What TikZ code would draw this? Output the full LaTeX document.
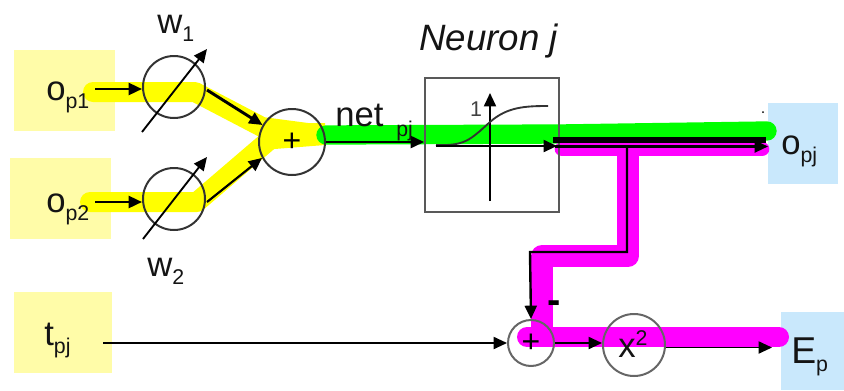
\documentclass[tikz,border=0pt]{standalone}
\usepackage{fontspec}
\setmainfont{Liberation Sans}
\usetikzlibrary{arrows.meta}
\definecolor{inyellow}{HTML}{FFFCA8}
\definecolor{outblue}{HTML}{C9E8FC}
\definecolor{hiyellow}{HTML}{FFFF00}
\definecolor{higreen}{HTML}{00FF00}
\definecolor{himag}{HTML}{FF00FF}
\definecolor{ringgray}{HTML}{333333}
\newcommand{\lowsub}[1]{\raisebox{-6pt}{\fontsize{16}{16}\selectfont #1}}
\tikzset{
  px/.style={x=0.75pt,y=-0.75pt},
  inbox/.style={fill=inyellow,draw=none,minimum width=75.75pt,minimum height=60.75pt,inner sep=0},
  outbox/.style={fill=outblue,draw=none,inner sep=0},
  ring/.style={circle,draw=ringgray,line width=1.5pt,inner sep=0},
  lbl/.style={inner sep=0,text=black!92,font=\fontsize{26}{26}\selectfont},
  conn/.style={black,line width=1.4pt,-{Triangle[length=10pt,width=9pt]}},
  hy/.style={hiyellow,line width=15pt,line cap=round,line join=round},
}
\begin{document}
\begin{tikzpicture}[px]
\useasboundingbox (0,0) rectangle (844,390);
% boxes
\node[inbox] (op1) at (64.5,90) {};
\node[inbox] (op2) at (60.5,198) {};
\node[inbox,minimum width=73.5pt] (tpj) at (63,332) {};
\node[outbox,minimum width=52.5pt,minimum height=60.75pt] (opj) at (803,143.5) {};
\node[outbox,minimum width=47.25pt,minimum height=58.5pt] (ep) at (812.5,351) {};
% highlights
\draw[hy] (93,92) -- (195,92) -- (262,127) -- (315,134);
\draw[hy] (90,202) -- (197,202) -- (267,142);
\fill[hiyellow] (262,123) -- (325,123) -- (325,145) -- (262,150) -- cycle;
\draw[higreen,line width=14.5pt,line cap=round,line join=round] (326,135) -- (560,134) -- (767,131);
\draw[himag,line width=11pt,line cap=round] (562,149) -- (762,149);
\draw[himag,line width=16.5pt,line cap=round,line join=round] (628,149) -- (628,256) -- (542,256);
\draw[himag,line width=16pt,line join=round] (542,256) -- (542,337);
\draw[himag,line width=15pt,line cap=round] (527,337) -- (779,337);
% rings
\node[ring,minimum size=46.5pt] (w1) at (174,87) {};
\node[ring,minimum size=46.5pt] (w2) at (174,199) {};
\node[ring,minimum size=49.5pt] (sum) at (292,142) {\fontsize{24}{24}\selectfont +};
\node[ring,draw=black!60,minimum size=34.5pt] (sub) at (531,343) {\fontsize{24}{24}\selectfont +};
\node[ring,draw=black!60,minimum size=46.5pt] (sq) at (634,345) {};
\node[lbl,anchor=base west] at (618,357) {x\raisebox{9pt}{\fontsize{16}{16}\selectfont 2}};
% weights
\coordinate (w1a) at (142,132); \coordinate (w1b) at (207,49);
\coordinate (w2a) at (143,239); \coordinate (w2b) at (207,157);
\draw[conn] (w1a) -- (w1b);
\draw[conn] (w2a) -- (w2b);
% input connectors
\coordinate (s1) at (95,89); \coordinate (s2) at (95,202);
\draw[conn,line width=1.8pt] (s1) -- (w1.west |- s1);
\draw[conn,line width=1.8pt] (s2) -- (w2.west |- s2);
\coordinate (w1o) at (207,90); \coordinate (w2o) at (207,202);
\draw[conn,line width=2.2pt] (w1o) -- (sum.150);
\draw[conn,line width=1.6pt] (w2o) -- (sum.208);
% neuron box
\node[draw=black!65,line width=1.4pt,minimum width=100.5pt,minimum height=100.5pt,inner sep=0] (nbox) at (492,145) {};
\coordinate (axb) at (490,201); \coordinate (axt) at (490,93);
\draw[conn] (axb) -- (axt);
\draw[black!80,line width=1.4pt] (436,145) .. controls (465,146) and (470,140) .. (490,122) .. controls (507,107) and (525,106) .. (548,106);
\node[inner sep=0,text=black!75,font=\fontsize{16}{16}\selectfont] at (476,109) {1};
\draw[conn,line width=1.8pt] (sum.east) -- (nbox.west |- sum.east);
\coordinate (cin) at (436,146); \coordinate (cout) at (557,146);
\draw[conn] (cin) -- (cout);
% output
\coordinate (t1) at (553,140); \coordinate (t2) at (766,140);
\draw[black,line width=4.5pt] (t1) -- (t2);
\coordinate (a1) at (555,146.5); \coordinate (a2) at (768,146.5);
\draw[conn,line width=1.6pt] (a1) -- (a2);
% feedback
\coordinate (fb1) at (627,146); \coordinate (fb2) at (627,252); \coordinate (fb3) at (530,252);
\draw[conn,line width=1.8pt,line join=miter] (fb1) -- (fb2) -- (fb3) -- (sub.north);
% bottom row
\coordinate (tin) at (103,343);
\draw[conn] (tin) -- (sub.west);
\draw[conn] (sub.east) -- (sq.west |- sub.east);
\coordinate (eout) at (772,347.5);
\draw[conn] (sq.east |- eout) -- (eout);
\node[inner sep=0,font=\bfseries\fontsize{30}{30}\selectfont] at (554,307) {-};
\fill[black] (763,112) circle (1);
% labels
\node[lbl,anchor=base west] at (46,100) {o\lowsub{p1}};
\node[lbl,anchor=base west] at (46,212) {o\lowsub{p2}};
\node[lbl,anchor=base west] at (44,345) {t\lowsub{pj}};
\node[lbl,anchor=base west] at (781,154) {o\lowsub{pj}};
\node[lbl,anchor=base west,font=\fontsize{28}{28}\selectfont] at (791,363) {E\lowsub{p}};
\node[lbl,anchor=base west] at (157,33) {w\lowsub{1}};
\node[lbl,anchor=base west] at (147,276) {w\lowsub{2}};
\node[lbl,anchor=base west] at (335,126) {net};
\node[inner sep=0,anchor=base west,text=black!92,font=\fontsize{16}{16}\selectfont] at (396,136) {pj};
\node[inner sep=0,anchor=base west,text=black!92,font=\itshape\fontsize{27.5}{27.5}\selectfont] at (419,50) {Neuron j};
\end{tikzpicture}
\end{document}
